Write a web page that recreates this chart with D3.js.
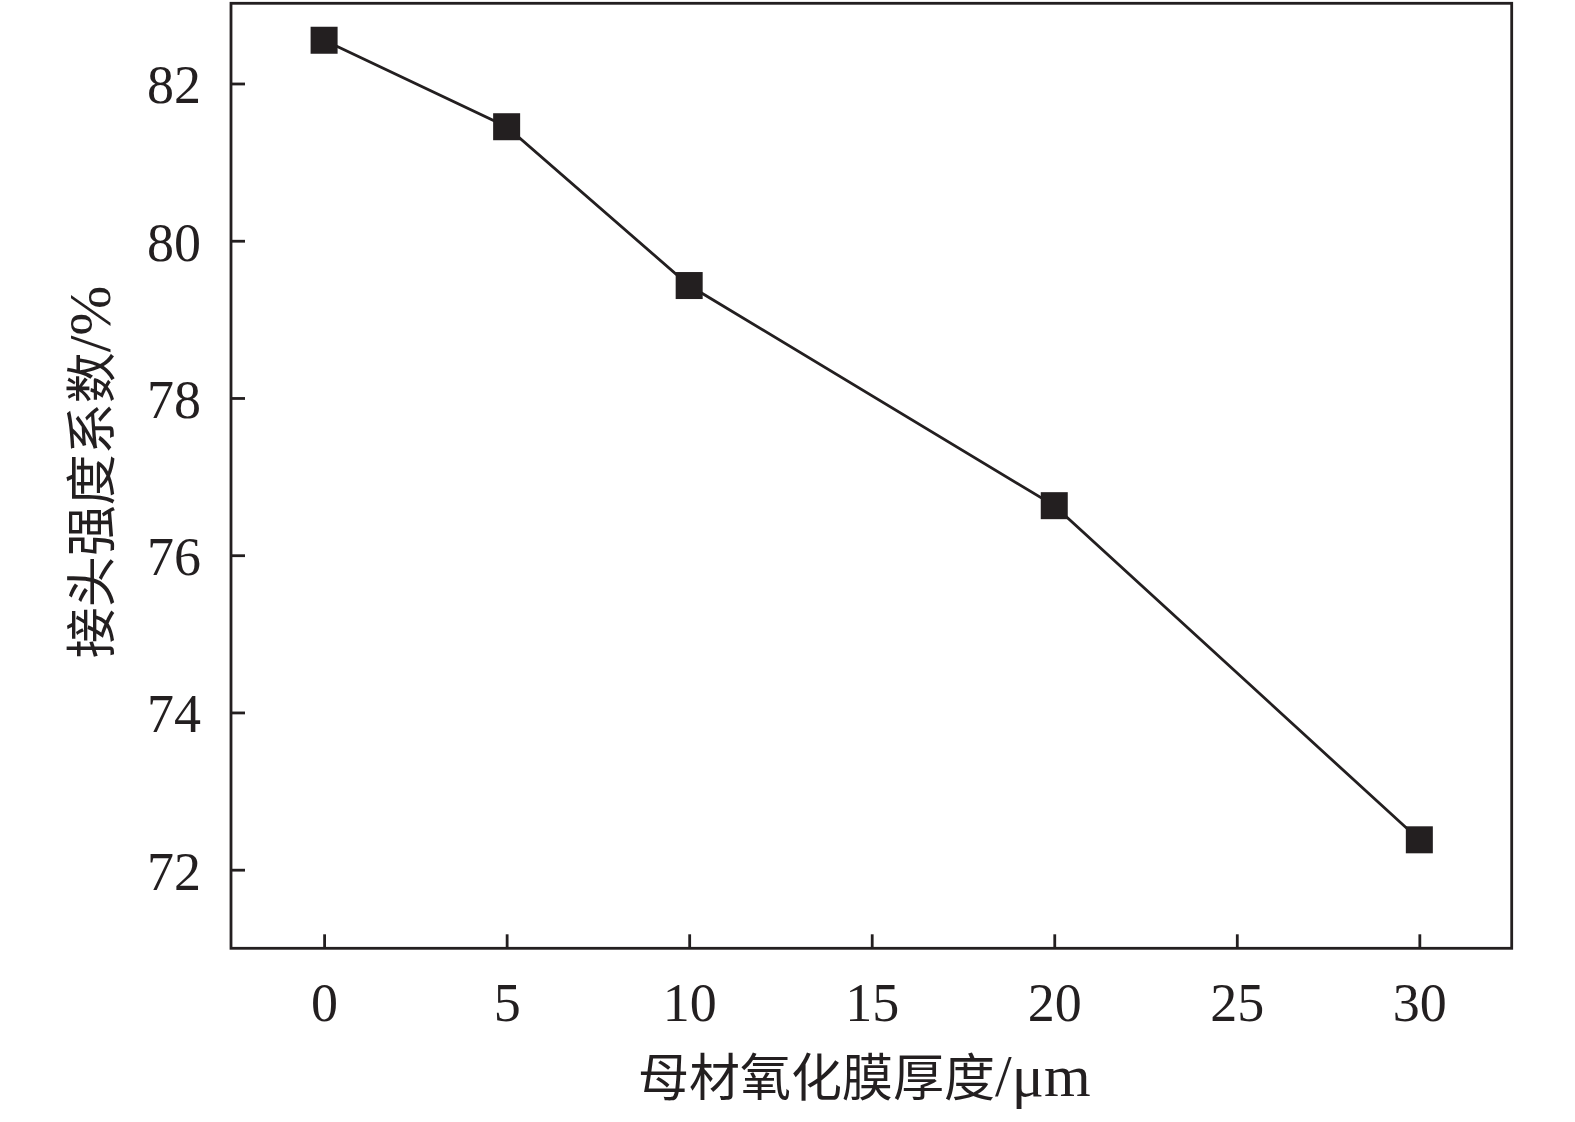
<!DOCTYPE html>
<html>
<head>
<meta charset="utf-8">
<script src="https://cdn.jsdelivr.net/npm/d3@7"></script>
<style>
  body { margin: 0; background: #fff; }
  .axis text { font-family: "Liberation Serif", serif; font-size: 54px; fill: #231f20; }
  .axis path, .axis line { stroke: #231f20; stroke-width: 2.8; }
  .title { font-family: "Liberation Serif", "Noto Sans CJK SC", serif; font-size: 51px; fill: #231f20; }
  .title .unit { font-size: 60px; }
</style>
</head>
<body>
<svg id="chart"></svg>
<script>
// data
const thickness = [0, 5, 10, 20, 30];
const jointCoef = [82.55, 81.45, 79.43, 76.63, 72.38];
const xTicks = [0, 5, 10, 15, 20, 25, 30];
const yTicks = [72, 74, 76, 78, 80, 82];
const xTitle = ['母材氧化膜厚度', '/μm'];
const yTitle = ['接头强度系数', '/%'];

const config = {
  containerWidth: 1575,
  containerHeight: 1122,
  margin: {top: 3.3, right: 63.3, bottom: 173.7, left: 231}
};

const width = config.containerWidth - config.margin.left - config.margin.right;
const height = config.containerHeight - config.margin.top - config.margin.bottom;

const svg = d3.select('#chart')
  .attr('width', config.containerWidth)
  .attr('height', config.containerHeight);

const chart = svg.append('g')
  .attr('transform', `translate(${config.margin.left},${config.margin.top})`);

const xScale = d3.scaleLinear().domain([-2.55, 32.53]).range([0, width]);
const yScale = d3.scaleLinear().domain([71.0, 83.02]).range([height, 0]);

// axes, ticks pointing inward
const xAxis = d3.axisBottom(xScale).tickValues(xTicks).tickSize(-14).tickSizeOuter(0).tickPadding(34);
const yAxis = d3.axisLeft(yScale).tickValues(yTicks).tickSize(-14).tickSizeOuter(0).tickPadding(30);

chart.append('g')
  .attr('class', 'axis x-axis')
  .attr('transform', `translate(0,${height})`)
  .call(xAxis)
  .call(g => g.select('.domain').remove());

chart.append('g')
  .attr('class', 'axis y-axis')
  .call(yAxis)
  .call(g => g.select('.domain').remove())
  .selectAll('text').attr('dy', '0.36em');

// frame
chart.append('rect')
  .attr('width', width)
  .attr('height', height)
  .attr('fill', 'none')
  .attr('stroke', '#231f20')
  .attr('stroke-width', 2.8);

const points = thickness.map((t, i) => ({x: t, y: jointCoef[i]}));

const line = d3.line().x(d => xScale(d.x)).y(d => yScale(d.y));

chart.append('path')
  .datum(points)
  .attr('fill', 'none')
  .attr('stroke', '#231f20')
  .attr('stroke-width', 2.8)
  .attr('d', line);

const s = 27;
chart.selectAll('.marker')
  .data(points)
  .join('rect')
  .attr('class', 'marker')
  .attr('x', d => xScale(d.x) - s / 2)
  .attr('y', d => yScale(d.y) - s / 2)
  .attr('width', s)
  .attr('height', s)
  .attr('fill', '#231f20');

// axis titles
function addTitle(parts) {
  const t = svg.append('text')
    .attr('class', 'title')
    .attr('text-anchor', 'middle');
  t.append('tspan').text(parts[0]);
  t.append('tspan').attr('class', 'unit').text(parts[1]);
  return t;
}

addTitle(xTitle)
  .attr('x', config.margin.left + width / 2 - 7)
  .attr('y', 1096);

addTitle(yTitle)
  .attr('transform', `translate(110,472) rotate(-90)`);
</script>
</body>
</html>
